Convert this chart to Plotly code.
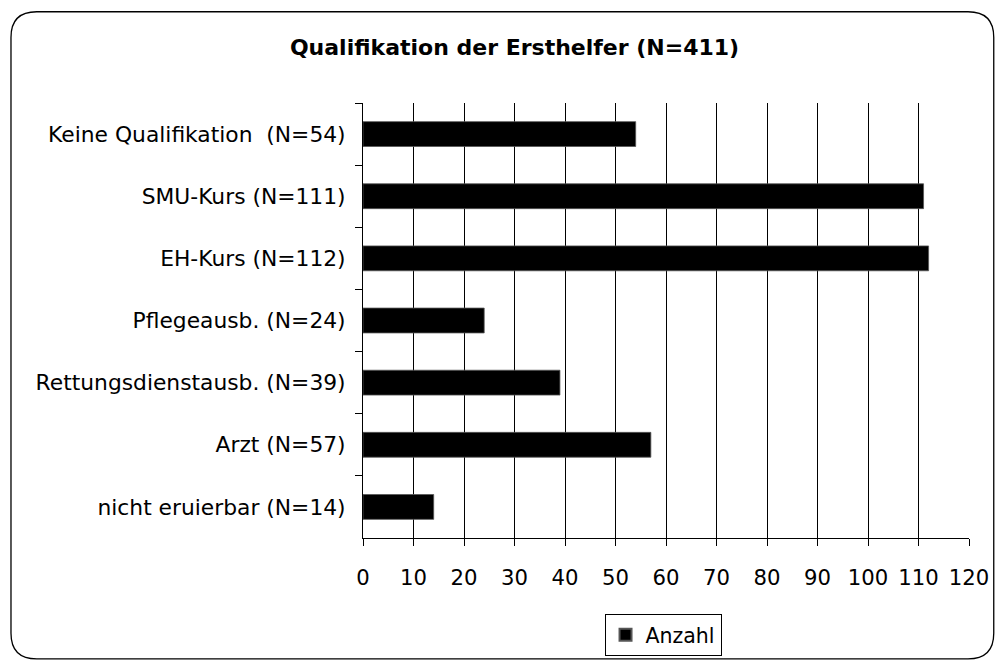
import plotly.graph_objects as go

categories = [
    "Keine Qualifikation  (N=54)",
    "SMU-Kurs (N=111)",
    "EH-Kurs (N=112)",
    "Pflegeausb. (N=24)",
    "Rettungsdienstausb. (N=39)",
    "Arzt (N=57)",
    "nicht eruierbar (N=14)",
]
values = [54, 111, 112, 24, 39, 57, 14]
series_name = "Anzahl"
title_text = "Qualifikation der Ersthelfer (N=411)"
x_ticks = list(range(0, 121, 10))

W, H = 1001, 668
SX, SY = 0.997, 0.992  # small compensation for capture scaling

def dx(x):
    return x / SX

def dy(y):
    return y / SY

ML, MT = round(dx(362)), round(dy(102))
MR = W - round(dx(972))
MB = H - round(dy(540))
PW = W - ML - MR
PH = H - MT - MB

def pxd(x):
    return (x - ML) / PW

def pyd(y):
    return (H - MB - y) / PH

FONT = "DejaVu Sans"

fig = go.Figure()
fig.add_trace(go.Bar(
    y=categories, x=values, orientation="h", name=series_name,
    marker=dict(color="black", line=dict(color="#555555", width=0.8)),
    showlegend=True,
))

# rounded frame (design pixel coordinates, kept inside the figure)
l, t, r, b, rad = 7.5, 10.5, 1000.0, 666.5, 26
path = (
    f"M {pxd(l+rad)},{pyd(t)} L {pxd(r-rad)},{pyd(t)} "
    f"Q {pxd(r)},{pyd(t)} {pxd(r)},{pyd(t+rad)} "
    f"L {pxd(r)},{pyd(b-rad)} Q {pxd(r)},{pyd(b)} {pxd(r-rad)},{pyd(b)} "
    f"L {pxd(l+rad)},{pyd(b)} Q {pxd(l)},{pyd(b)} {pxd(l)},{pyd(b-rad)} "
    f"L {pxd(l)},{pyd(t+rad)} Q {pxd(l)},{pyd(t)} {pxd(l+rad)},{pyd(t)} Z"
)
fig.add_shape(type="path", path=path, xref="paper", yref="paper",
              line=dict(color="black", width=1.3), layer="below")

fig.update_layout(
    width=W, height=H,
    margin=dict(l=ML, r=MR, t=MT, b=MB),
    paper_bgcolor="white", plot_bgcolor="white",
    bargap=0.6,
    title=dict(text=f"<b>{title_text}</b>", x=dx(513) / W, xanchor="center",
               xref="container",
               y=1 - dy(47) / H, yanchor="middle", yref="container",
               font=dict(family=FONT, size=22, color="black")),
    font=dict(family=FONT, size=21.5, color="black"),
    xaxis=dict(
        range=[0, 120], tickvals=x_ticks, ticks="outside", ticklen=7,
        tickcolor="black", showgrid=True, gridcolor="black", gridwidth=1,
        showline=True, linecolor="black", linewidth=1, zeroline=False,
        tickfont=dict(family=FONT, size=21.2, color="black"),
        ticklabelstandoff=14,
    ),
    yaxis=dict(
        categoryorder="array", categoryarray=categories, autorange="reversed",
        ticks="outside", ticklen=7, tickcolor="black", tickson="boundaries",
        showline=True, linecolor="black", linewidth=1, showgrid=False,
        tickfont=dict(family=FONT, size=21.8, color="black"),
        ticklabelstandoff=12,
    ),
    legend=dict(
        orientation="h", x=pxd(dx(664)), xanchor="center", y=pyd(621), yanchor="top",
        bordercolor="black", borderwidth=1, bgcolor="white",
        font=dict(family=FONT, size=20.5, color="black"),
        tracegroupgap=0, itemsizing="constant",
    ),
)

fig.write_html(
    "out.html",
    config={"displayModeBar": False},
    post_script="document.body.style.margin='0';document.body.style.overflow='hidden';",
)
